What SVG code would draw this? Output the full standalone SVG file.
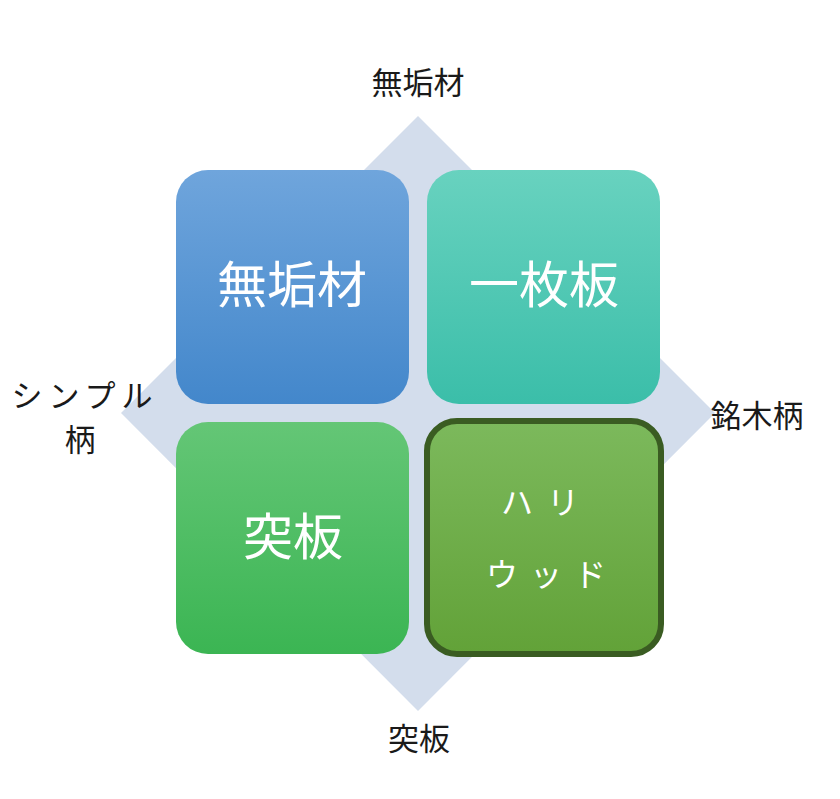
<svg xmlns="http://www.w3.org/2000/svg" width="840" height="799" viewBox="0 0 840 799">
<style>
.lbl{font-family:"Noto Sans CJK JP","Noto Sans",sans-serif;fill:#1a1a1a;font-size:31px;text-anchor:middle}
.big{font-family:"Noto Sans CJK JP","Noto Sans",sans-serif;fill:#ffffff;font-size:50px;text-anchor:middle}
.mid{font-family:"Noto Sans CJK JP","Noto Sans",sans-serif;fill:#ffffff;font-size:32px;text-anchor:middle}
</style>
<defs>
<linearGradient id="gb" x1="0" y1="0" x2="0" y2="1"><stop offset="0" stop-color="#6fa5dc"/><stop offset="1" stop-color="#4387cb"/></linearGradient>
<linearGradient id="gt" x1="0" y1="0" x2="0" y2="1"><stop offset="0" stop-color="#68d2bf"/><stop offset="1" stop-color="#3bbea9"/></linearGradient>
<linearGradient id="gg" x1="0" y1="0" x2="0" y2="1"><stop offset="0" stop-color="#64c676"/><stop offset="1" stop-color="#3bb553"/></linearGradient>
<linearGradient id="gl" x1="0" y1="0" x2="0" y2="1"><stop offset="0" stop-color="#7cb95c"/><stop offset="1" stop-color="#62a238"/></linearGradient>
</defs>
<rect width="840" height="799" fill="#ffffff"/>
<g id="diamond"><polygon points="418,116 715,413 418,711 121,413" fill="#d3ddec"/></g>
<g id="connectors"></g>
<g id="n1"><rect x="176" y="170" width="233" height="234" rx="32" fill="url(#gb)"/><text class="big" x="292" y="303">無垢材</text></g>
<g id="n2"><rect x="427" y="170" width="233" height="234" rx="32" fill="url(#gt)"/><text class="big" x="544" y="303">一枚板</text></g>
<g id="n3"><rect x="176" y="422" width="233" height="232" rx="32" fill="url(#gg)"/><text class="big" x="293" y="555">突板</text></g>
<g id="n4"><rect x="427" y="421" width="234" height="233" rx="30" fill="url(#gl)" stroke="#3a5c22" stroke-width="6"/><text class="mid" x="547" y="514" letter-spacing="14">ハリ</text><text class="mid" x="552" y="586" letter-spacing="12">ウッド</text></g>
<g id="labels">
<text class="lbl" x="418" y="94">無垢材</text>
<text class="lbl" x="419" y="750">突板</text>
<text class="lbl" x="757" y="427">銘木柄</text>
<text class="lbl" x="85" y="407" letter-spacing="6">シンプル</text>
<text class="lbl" x="80" y="451">柄</text>
</g>
</svg>
